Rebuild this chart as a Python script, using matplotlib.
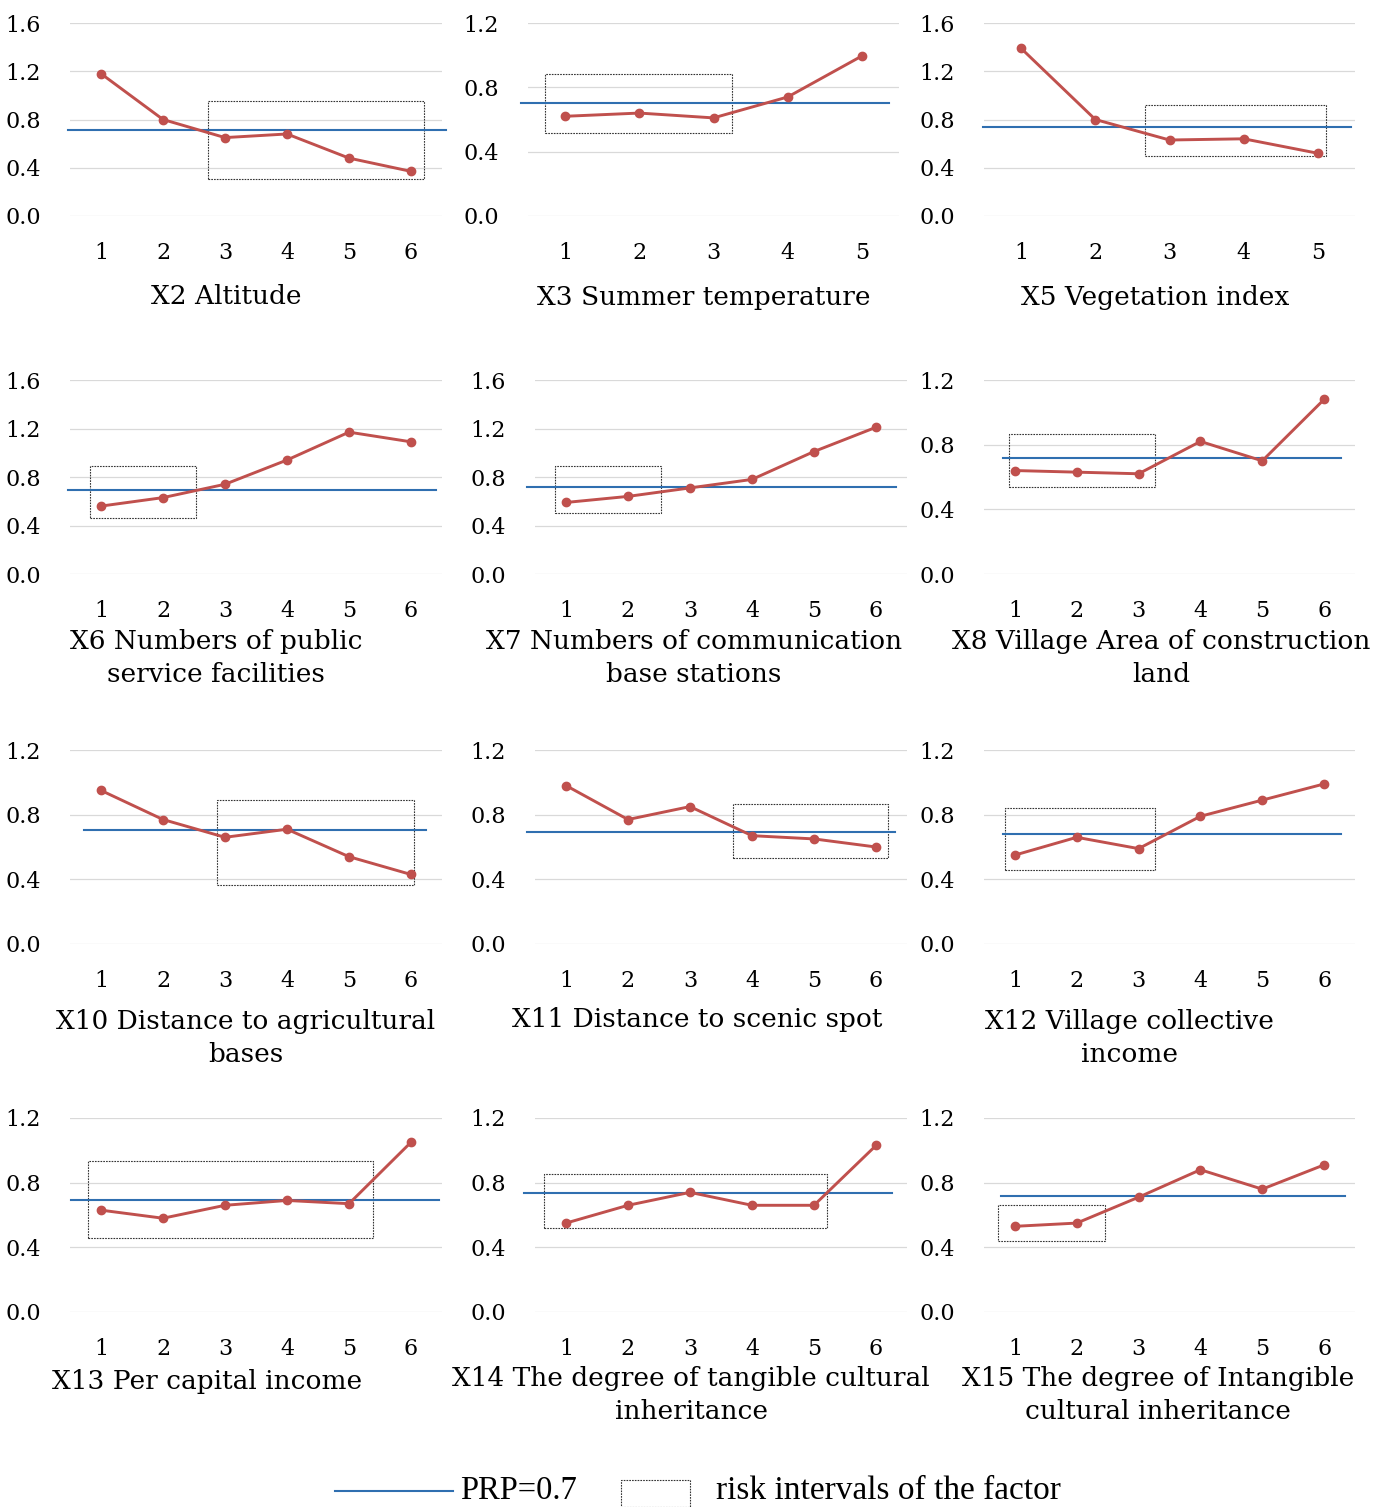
import matplotlib.pyplot as plt
from matplotlib.patches import Rectangle
from matplotlib.lines import Line2D

# values
titles = ["X2 Altitude", "X3 Summer temperature", "X5 Vegetation index",
          "X6 Numbers of public\nservice facilities", "X7 Numbers of communication\nbase stations",
          "X8 Village Area of construction\nland",
          "X10 Distance to agricultural\nbases", "X11 Distance to scenic spot",
          "X12 Village collective\nincome",
          "X13 Per capital income", "X14 The degree of tangible cultural\ninheritance",
          "X15 The degree of Intangible\ncultural inheritance"]
x2 = [1.18, 0.80, 0.65, 0.68, 0.48, 0.37]
x3 = [0.62, 0.64, 0.61, 0.74, 0.995]
x5 = [1.39, 0.80, 0.63, 0.64, 0.52]
x6 = [0.56, 0.63, 0.74, 0.94, 1.17, 1.09]
x7 = [0.59, 0.64, 0.71, 0.78, 1.01, 1.21]
x8 = [0.64, 0.63, 0.62, 0.82, 0.70, 1.08]
x10 = [0.95, 0.77, 0.66, 0.71, 0.54, 0.43]
x11 = [0.98, 0.77, 0.85, 0.67, 0.65, 0.60]
x12 = [0.55, 0.66, 0.59, 0.79, 0.89, 0.99]
x13 = [0.63, 0.58, 0.66, 0.69, 0.67, 1.05]
x14 = [0.55, 0.66, 0.74, 0.66, 0.66, 1.03]
x15 = [0.53, 0.55, 0.71, 0.88, 0.76, 0.91]
series = [x2, x3, x5, x6, x7, x8, x10, x11, x12, x13, x14, x15]
ymax = [1.6, 1.2, 1.6, 1.6, 1.6, 1.2, 1.2, 1.2, 1.2, 1.2, 1.2, 1.2]
# PRP line as drawn in each panel (level, x start, x end)
prp_level = [0.712, 0.703, 0.738, 0.693, 0.718, 0.717, 0.705, 0.693, 0.68, 0.693, 0.736, 0.717]
prp_x = [(0.47, 6.56), (0.41, 5.37), (0.49, 5.45), (0.47, 6.40), (0.37, 6.32), (0.81, 6.27),
         (0.73, 6.24), (0.37, 6.31), (0.81, 6.27), (0.52, 6.45), (0.32, 6.26), (0.77, 6.34)]
# risk interval boxes (x0, x1, y0, y1)
risk_box = [(2.73, 6.21, 0.306, 0.952), (0.73, 3.25, 0.516, 0.883), (2.67, 5.11, 0.497, 0.92),
            (0.82, 2.53, 0.462, 0.891), (0.82, 2.53, 0.503, 0.891), (0.90, 3.26, 0.538, 0.866),
            (2.87, 6.05, 0.365, 0.891), (3.69, 6.19, 0.532, 0.866), (0.84, 3.26, 0.458, 0.841),
            (0.79, 5.39, 0.458, 0.934), (0.65, 5.21, 0.519, 0.853), (0.73, 2.45, 0.439, 0.662)]

W, H = 1390, 1507
fig = plt.figure(figsize=(W / 100, H / 100), dpi=100)

# panel boxes in pixels: left, right, top, bottom
col_x = [(70, 442), (535, 907), (984, 1355)]
row_y = [(23, 216), (380, 574), (750, 944), (1118, 1312)]
title_pos = [(226, 297), (704, 297), (1155, 297),
             (216, 658), (694, 658), (1161, 658),
             (246, 1038), (697, 1020), (1129, 1038),
             (207, 1382), (691, 1395), (1158, 1395)]

red = "#c0504d"
blue = "#2f6fb0"
serif = "DejaVu Serif"

for i, vals in enumerate(series):
    r, c = divmod(i, 3)
    l, rr = col_x[c]
    if i == 1:
        l, rr = 528, 899
    t, b = row_y[r]
    ax = fig.add_axes([l / W, 1 - b / H, (rr - l) / W, (b - t) / H])
    n = len(vals)
    xs = list(range(1, n + 1))
    ax.set_xlim(0.5, n + 0.5)
    ax.set_ylim(0, ymax[i])
    ticks = [k * 0.4 for k in range(int(round(ymax[i] / 0.4)) + 1)]
    ax.set_yticks(ticks)
    ax.set_yticklabels([f"{v:.1f}" for v in ticks], family=serif, fontsize=16)
    ax.set_xticks(xs)
    ax.set_xticklabels([str(v) for v in xs], family=serif, fontsize=16)
    ax.tick_params(length=0, axis="y", pad=21)
    ax.tick_params(length=0, axis="x", pad=18.5)
    for s in ax.spines.values():
        s.set_visible(False)
    ax.grid(axis="y", color="#d9d9d9", linewidth=0.9)
    ax.set_axisbelow(True)
    x0, x1, y0, y1 = risk_box[i]
    ax.add_patch(Rectangle((x0, y0), x1 - x0, y1 - y0, fill=False, edgecolor="#333333",
                           linewidth=0.8, linestyle=(0, (1.5, 1)), zorder=2))
    ax.plot(prp_x[i], [prp_level[i]] * 2, color=blue, linewidth=1.5, clip_on=False, zorder=3)
    ax.plot(xs, vals, color=red, linewidth=2.1, marker="o", markersize=6, zorder=4)
    tx, ty = title_pos[i]
    fig.text(tx / W, 1 - ty / H, titles[i], ha="center", va="center", family=serif,
             fontsize=19, linespacing=1.38)

# legend at the bottom
leg = "Liberation Serif"
fig.add_artist(Line2D([335 / W, 453 / W], [1 - 1491 / H] * 2, color=blue, linewidth=1.5))
fig.text(460 / W, 1 - 1491 / H, "PRP=0.7", ha="left", va="center", family=leg, fontsize=23.5)
fig.add_artist(Rectangle((621 / W, 0), 69 / W, 27 / H, fill=False, edgecolor="#333333",
                         linewidth=0.8, linestyle=(0, (1.5, 1)), transform=fig.transFigure))
fig.text(716 / W, 1 - 1491 / H, "risk intervals of the factor", ha="left", va="center",
         family=leg, fontsize=24)

plt.savefig("out.png", dpi=100)
